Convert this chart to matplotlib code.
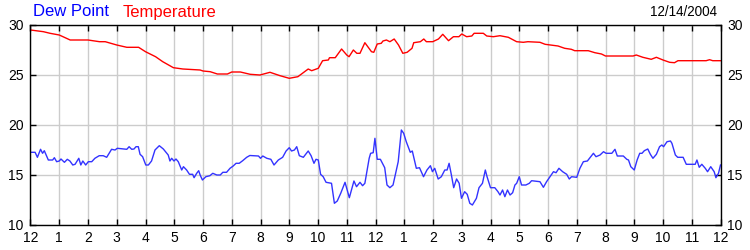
import matplotlib
matplotlib.use("Agg")
import matplotlib.pyplot as plt

plt.rcParams['font.family'] = ['Liberation Sans', 'DejaVu Sans']

# Hours since midnight and values
temp_h = [0.0, 0.45, 0.68, 1.0, 1.38, 2.0, 2.4, 2.6, 3.0, 3.35, 3.76, 4.0, 4.35, 4.6, 4.97,
          5.3, 5.9, 6.0, 6.25, 6.5, 6.85, 7.0, 7.3, 7.64, 7.98, 8.33, 8.68, 9.0, 9.3, 9.66,
          9.78, 10.01, 10.16, 10.36, 10.4, 10.6, 10.82, 11.0, 11.08, 11.23, 11.35, 11.46,
          11.63, 11.86, 11.94, 12.06, 12.2, 12.26, 12.38, 12.5, 12.65, 12.8, 12.95, 13.1,
          13.27, 13.33, 13.56, 13.68, 13.77, 13.99, 14.19, 14.34, 14.54, 14.71, 14.9, 15.0,
          15.17, 15.35, 15.43, 15.75, 15.87, 16.1, 16.33, 16.62, 16.91, 17.14, 17.3, 17.72,
          17.9, 18.35, 18.58, 18.81, 18.93, 19.4, 19.63, 19.86, 20.0, 20.96, 21.07, 21.3,
          21.59, 21.77, 22.0, 22.23, 22.4, 22.52, 23.5, 23.62, 23.73, 24.0]
temp_v = [29.5, 29.33, 29.17, 29.0, 28.5, 28.5, 28.33, 28.33, 28.0, 27.77, 27.77, 27.33,
          26.83, 26.33, 25.73, 25.6, 25.5, 25.4, 25.33, 25.1, 25.1, 25.3, 25.3, 25.07, 25.0,
          25.27, 24.93, 24.67, 24.83, 25.6, 25.43, 25.67, 26.43, 26.5, 26.73, 26.73, 27.6,
          27.0, 26.83, 27.5, 27.17, 27.17, 28.23, 27.33, 27.27, 28.1, 28.17, 28.4, 28.5,
          28.33, 28.6, 28.0, 27.17, 27.27, 27.67, 28.23, 28.33, 28.6, 28.33, 28.33, 28.6,
          29.07, 28.43, 28.83, 28.83, 29.1, 28.83, 28.9, 29.17, 29.17, 28.9, 28.83, 28.93,
          28.77, 28.33, 28.27, 28.33, 28.27, 28.07, 27.9, 27.67, 27.57, 27.43, 27.43, 27.23,
          27.1, 26.9, 26.9, 27.0, 26.77, 26.57, 26.77, 26.5, 26.27, 26.23, 26.43, 26.43,
          26.53, 26.43, 26.43]

dew_h = [0.0, 0.16, 0.24, 0.35, 0.42, 0.48, 0.62, 0.77, 0.83, 0.91, 1.0, 1.06, 1.18, 1.28,
         1.37, 1.47, 1.55, 1.68, 1.75, 1.82, 1.92, 2.01, 2.13, 2.24, 2.39, 2.53, 2.65, 2.82,
         2.94, 3.02, 3.35, 3.43, 3.52, 3.6, 3.67, 3.75, 3.81, 3.9, 4.01, 4.1, 4.21, 4.33,
         4.48, 4.62, 4.74, 4.79, 4.85, 4.91, 4.99, 5.06, 5.14, 5.26, 5.32, 5.43, 5.53, 5.64,
         5.69, 5.78, 5.85, 5.9, 5.98, 6.1, 6.24, 6.34, 6.48, 6.6, 6.69, 6.82, 6.94, 7.05,
         7.15, 7.26, 7.38, 7.52, 7.63, 7.93, 8.0, 8.08, 8.22, 8.36, 8.47, 8.62, 8.77, 8.89,
         9.0, 9.08, 9.18, 9.26, 9.35, 9.49, 9.66, 9.76, 9.86, 9.93, 10.01, 10.09, 10.18,
         10.28, 10.47, 10.57, 10.67, 10.79, 10.94, 11.09, 11.25, 11.34, 11.46, 11.55, 11.63,
         11.78, 11.83, 11.92, 11.98, 12.06, 12.17, 12.32, 12.4, 12.5, 12.61, 12.79, 12.9,
         12.98, 13.07, 13.21, 13.28, 13.42, 13.53, 13.67, 13.79, 13.91, 13.98, 14.06, 14.18,
         14.29, 14.41, 14.49, 14.56, 14.64, 14.72, 14.82, 14.91, 14.99, 15.1, 15.19, 15.28,
         15.37, 15.51, 15.6, 15.72, 15.82, 15.88, 16.0, 16.15, 16.26, 16.33, 16.42, 16.5,
         16.59, 16.68, 16.77, 16.85, 16.91, 17.0, 17.08, 17.23, 17.35, 17.43, 17.72, 17.84,
         17.95, 18.07, 18.19, 18.28, 18.38, 18.51, 18.65, 18.74, 18.82, 19.0, 19.11, 19.23,
         19.37, 19.46, 19.58, 19.67, 19.81, 19.93, 20.02, 20.22, 20.33, 20.41, 20.62, 20.74,
         20.8, 20.88, 21.0, 21.1, 21.19, 21.27, 21.35, 21.47, 21.56, 21.65, 21.77, 21.88,
         21.96, 22.02, 22.14, 22.26, 22.31, 22.43, 22.51, 22.7, 22.81, 23.01, 23.12, 23.18,
         23.26, 23.35, 23.47, 23.55, 23.66, 23.78, 23.84, 23.93, 24.0]
dew_v = [17.27, 17.27, 16.77, 17.57, 17.17, 17.43, 16.5, 16.5, 16.73, 16.33, 16.4, 16.6,
         16.27, 16.57, 16.4, 16.0, 16.07, 16.67, 16.0, 16.4, 16.0, 16.33, 16.33, 16.67,
         16.93, 16.93, 16.77, 17.57, 17.5, 17.67, 17.57, 17.83, 17.57, 17.6, 17.83, 17.83,
         17.07, 16.83, 16.0, 16.0, 16.4, 17.5, 17.93, 17.6, 17.17, 17.0, 16.4, 16.67, 16.4,
         16.6, 16.33, 15.5, 15.83, 15.5, 15.07, 15.07, 14.73, 15.17, 15.43, 15.0, 14.5,
         14.83, 14.93, 15.17, 15.0, 15.0, 15.27, 15.27, 15.67, 15.9, 16.17, 16.17, 16.43,
         16.77, 16.95, 16.9, 16.67, 16.9, 16.67, 16.57, 16.0, 16.5, 16.77, 17.4, 17.73, 17.4,
         17.5, 17.83, 16.93, 16.77, 17.4, 16.93, 16.17, 16.57, 16.5, 15.07, 14.83, 14.27,
         14.17, 12.17, 12.4, 13.17, 14.27, 12.73, 14.4, 13.83, 14.27, 13.93, 14.17, 16.67,
         17.17, 17.23, 18.67, 16.57, 16.57, 15.73, 14.0, 13.73, 14.0, 16.33, 19.5, 19.17,
         18.33, 17.27, 17.4, 15.67, 15.73, 14.83, 15.5, 15.93, 15.33, 15.67, 14.6, 14.83,
         15.5, 15.5, 16.17, 15.0, 13.73, 14.6, 14.17, 12.67, 13.33, 13.07, 12.17, 12.0,
         12.67, 13.73, 14.17, 15.5, 14.83, 13.73, 13.73, 13.33, 13.0, 13.5, 12.83, 13.5,
         13.0, 13.23, 14.0, 14.17, 14.83, 14.0, 14.0, 14.17, 14.43, 14.33, 13.77, 14.33,
         14.83, 15.33, 15.23, 15.67, 15.33, 15.07, 14.6, 14.83, 14.77, 15.67, 16.33, 16.4,
         16.73, 17.17, 16.83, 17.0, 17.33, 17.17, 17.17, 17.57, 16.9, 16.9, 16.57, 16.5,
         15.83, 15.5, 16.5, 17.17, 17.17, 17.43, 17.6, 17.07, 16.67, 17.07, 17.83, 18.0,
         17.83, 18.33, 18.4, 18.17, 17.0, 16.77, 16.77, 16.07, 16.07, 16.07, 16.5, 15.77,
         16.07, 15.67, 15.33, 15.83, 15.33, 14.73, 15.17, 16.0]

x_ticks = list(range(25))
x_labels = ['12'] + [str(i) for i in range(1, 12)] + ['12'] + [str(i) for i in range(1, 12)] + ['12']
y_ticks = [10, 15, 20, 25, 30]
date_text = '12/14/2004'

fig = plt.figure(figsize=(7.5, 2.5), dpi=100)
ax = fig.add_axes([30.5 / 750, 25 / 250, 690 / 750, 200 / 250])

ax.plot(dew_h, dew_v, color='#3333ff', lw=1.0)
ax.plot(temp_h, temp_v, color='#ff0000', lw=1.0)

ax.set_xlim(0, 24)
ax.set_ylim(10, 30)
ax.set_xticks(x_ticks)
ax.set_xticklabels(x_labels)
ax.set_yticks(y_ticks)
ax.grid(True, color='#cccccc', lw=1.0)
ax.set_axisbelow(True)
for s in ax.spines.values():
    s.set_color('black')
    s.set_linewidth(1.0)

ax.tick_params(axis='both', direction='in', length=4, width=1, color='black',
               labelsize=10, top=True, right=True, labelright=True)
ax.tick_params(axis='x', pad=4.5)
ax.tick_params(axis='y', pad=5)

fig.text(33 / 750, 1 - 12 / 250, 'Dew Point', color='#0000ff', fontsize=12,
         ha='left', va='center')
fig.text(123 / 750, 1 - 12 / 250, 'Temperature', color='#ff0000', fontsize=12,
         ha='left', va='center')
fig.text(717 / 750, 1 - 12 / 250, date_text, color='black', fontsize=9.75,
         ha='right', va='center')

fig.savefig('out.png', dpi=100, facecolor='white')
